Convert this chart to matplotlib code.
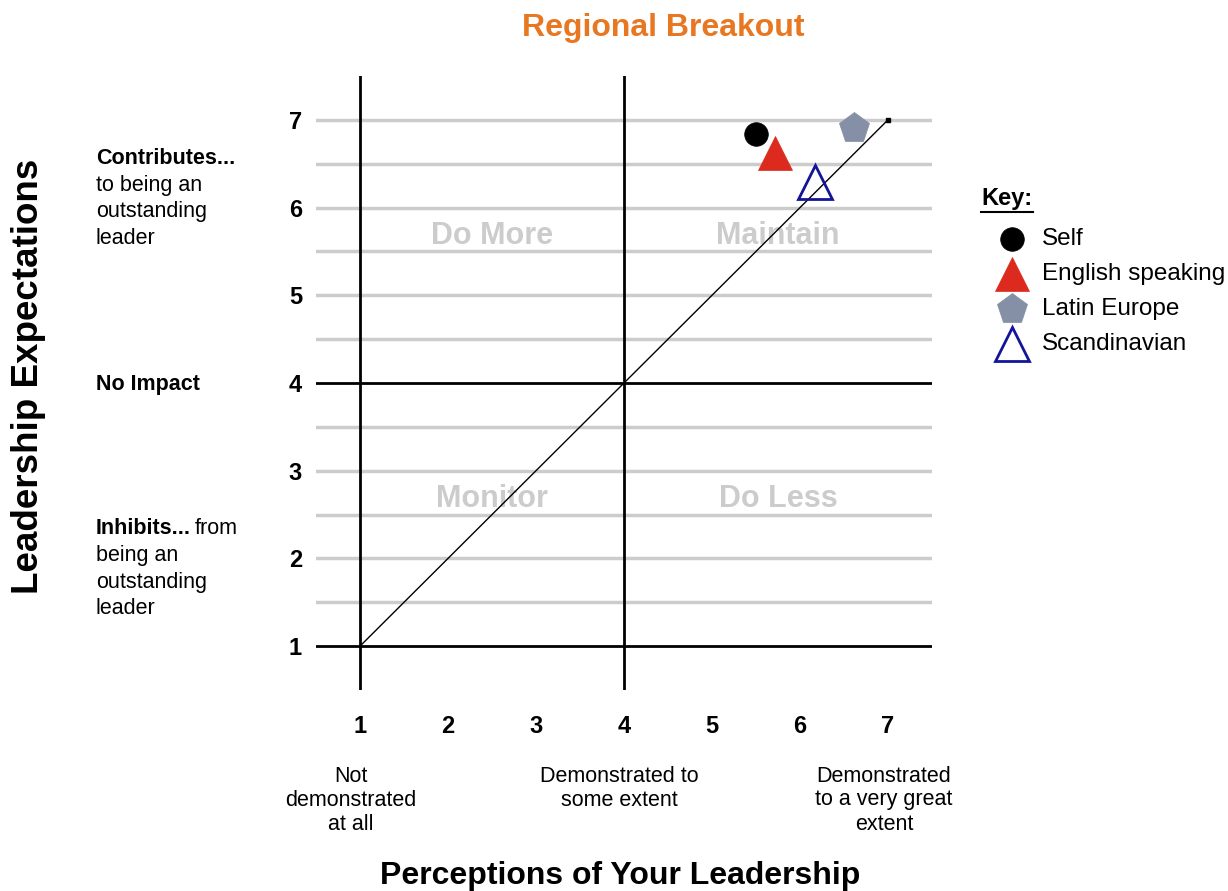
import matplotlib.pyplot as plt
from matplotlib.lines import Line2D

plt.rcParams['font.family'] = ['Liberation Sans', 'DejaVu Sans']

# scores on the 1-7 scales
groups = ['Self', 'English speaking', 'Latin Europe', 'Scandinavian']
perceptions = [5.50, 5.72, 6.61, 6.17]
expectations = [6.84, 6.62, 6.91, 6.29]
markers = ['o', '^', 'p', '^']
face_colors = ['#000000', '#dd2a1e', '#8590a6', 'none']
edge_colors = ['#000000', '#dd2a1e', '#8590a6', '#14149a']
marker_sizes = [17, 25, 23, 24]

ticks = [1, 2, 3, 4, 5, 6, 7]
quadrants = ['Do More', 'Maintain', 'Monitor', 'Do Less']
quad_x = [2.5, 5.75, 2.5, 5.75]
quad_y = [5.68, 5.68, 2.68, 2.68]

W, H = 1228, 891


def px(x, y):
    # pixel position -> figure fraction
    return x / W, 1 - y / H


fig = plt.figure(figsize=(W / 100, H / 100), dpi=100)
ax = fig.add_axes([316 / W, 201 / H, 616 / W, 614 / H])
ax.set_xlim(0.5, 7.5)
ax.set_ylim(0.5, 7.5)
for s in ax.spines.values():
    s.set_visible(False)

# light half-step grid, black dividers at 1 and 4
for v in [1.5, 2, 2.5, 3, 3.5, 4.5, 5, 5.5, 6, 6.5, 7]:
    ax.axhline(v, color='#cccccc', lw=2.5, zorder=1)
for v in [1, 4]:
    ax.axhline(v, color='black', lw=2, zorder=2)
    ax.axvline(v, color='black', lw=2, zorder=2)

for label, qx, qy in zip(quadrants, quad_x, quad_y):
    ax.text(qx, qy, label, ha='center', va='center', fontsize=22,
            fontweight='bold', color='#cccccc', zorder=1.5)

ax.plot([1, 7], [1, 7], color='black', lw=1, zorder=3)
ax.plot([7], [7], marker='s', ms=2.5, color='black', zorder=3)

for g, x, y, m, fc, ec, ms in zip(groups, perceptions, expectations, markers,
                                    face_colors, edge_colors, marker_sizes):
    ax.plot([x], [y], marker=m, ms=ms, markerfacecolor=fc,
            markeredgecolor=ec, markeredgewidth=2 if fc == 'none' else 0.5,
            linestyle='none', zorder=4)

ax.set_xticks(ticks)
ax.set_yticks(ticks)
ax.set_xticklabels(ticks, fontsize=17, fontweight='bold')
ax.set_yticklabels(ticks, fontsize=17, fontweight='bold')
ax.tick_params(axis='x', length=0, pad=18)
ax.tick_params(axis='y', length=0, pad=10)

# titles
fig.text(*px(663, 28), 'Regional Breakout', ha='center', va='center',
         fontsize=23, fontweight='bold', color='#e87722')
fig.text(*px(620, 876), 'Perceptions of Your Leadership', ha='center',
         va='center', fontsize=23, fontweight='bold')
fig.text(*px(29, 376), 'Leadership Expectations', ha='center', va='center',
         rotation=90, fontsize=26.5, fontweight='bold')

# y-axis descriptors
fs = 15.5
fig.text(*px(96, 158), 'Contributes...', fontsize=fs, fontweight='bold', va='center')
for i, line in enumerate(['to being an', 'outstanding', 'leader']):
    fig.text(*px(96, 185 + 26.7 * i), line, fontsize=fs, va='center')
fig.text(*px(96, 384), 'No Impact', fontsize=fs, fontweight='bold', va='center')
fig.text(*px(96, 529), 'Inhibits...', fontsize=fs, fontweight='bold', va='center')
fig.text(*px(195, 529), 'from', fontsize=fs, va='center')
for i, line in enumerate(['being an', 'outstanding', 'leader']):
    fig.text(*px(96, 556 + 26.3 * i), line, fontsize=fs, va='center')

# x-axis descriptors
notes = [(351, ['Not', 'demonstrated', 'at all']),
         (619, ['Demonstrated to', 'some extent']),
         (884, ['Demonstrated', 'to a very great', 'extent'])]
for cx, lines in notes:
    for i, line in enumerate(lines):
        fig.text(*px(cx, 776 + 24 * i), line, ha='center', va='center', fontsize=fs)

# key
fig.text(*px(981, 199), 'Key:', fontsize=17, fontweight='bold', va='center')
fig.add_artist(Line2D([981 / W, 1033 / W], [1 - 212 / H] * 2, color='black', lw=1.5))
for i, (g, m, fc, ec, ms) in enumerate(zip(groups, markers, face_colors,
                                            edge_colors, marker_sizes)):
    yy = 239 + 35 * i
    fig.add_artist(Line2D([1012 / W], [1 - yy / H], marker=m, ms=ms,
                          markerfacecolor=fc, markeredgecolor=ec,
                          markeredgewidth=2 if fc == 'none' else 0.5,
                          linestyle='none'))
    fig.text(*px(1042, yy), g, fontsize=17.5, va='center')

fig.savefig('out.png', dpi=100)
